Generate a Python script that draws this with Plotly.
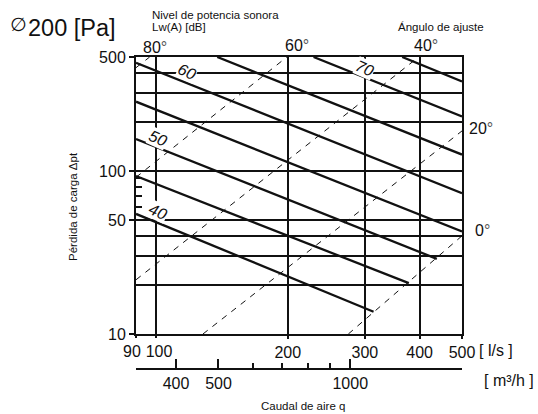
import math
import plotly.graph_objects as go

# Axes: air flow q [l/s] (log) and pressure drop Δpt [Pa] (log)
Q_RANGE = [90, 500]
DP_RANGE = [10, 500]
q_ticks = [200, 300, 400, 500]
q_grid = [100]
q_first, q_second = 90, 100          # crowded pair, labelled on their own scales
dp_ticks = [10, 50, 100, 500]
dp_grid = [20, 30, 40, 200, 300, 400]
dp_inner_ticks = [60, 70, 80, 90]
M3H_PER_LS = 3.6
m3h_ticks = [400, 500, 1000]
m3h_minor = [600, 700, 800, 900]

# Sound power level lines Lw(A) [dB]
lw_levels = [40, 45, 50, 55, 60, 65, 70, 75]
lw_q_start = [90, 90, 90, 90, 90, 138, 229, 365]
lw_dp_start = [54.5, 93, 157, 266, 461, 500, 500, 500]
lw_q_end = [314, 378, 438, 500, 500, 500, 500, 500]
lw_dp_end = [13.7, 20.5, 28.9, 42.5, 73, 126, 216, 354]
lw_labelled = [40, 50, 60, 70]

# Damper setting angle lines
angles = [80, 60, 40, 20, 0]
ang_q_start = [90, 90, 90, 128, 275]
ang_dp_start = [430, 91.4, 21.5, 10, 10]
ang_q_end = [96.7, 199, 398, 500, 500]
ang_dp_end = [500, 500, 500, 176, 40]

FONT = "Liberation Sans, Arial, Helvetica, sans-serif"
INK = "#111111"

fig = go.Figure()

for i, lv in enumerate(lw_levels):
    fig.add_trace(go.Scatter(
        x=[lw_q_start[i], lw_q_end[i]], y=[lw_dp_start[i], lw_dp_end[i]],
        mode="lines", line=dict(color=INK, width=2.3),
        name=f"Lw {lv} dB", showlegend=False, hoverinfo="skip"))

for i, ang in enumerate(angles):
    fig.add_trace(go.Scatter(
        x=[ang_q_start[i], ang_q_end[i]], y=[ang_dp_start[i], ang_dp_end[i]],
        mode="lines", line=dict(color=INK, width=1, dash="6px,6px"),
        name=f"{ang}°", showlegend=False, hoverinfo="skip"))

# carriers for the extra scales (m³/h, inner pressure ticks, crowded q labels)
for xa, ya in [("x2", "y"), ("x", "y2"), ("x3", "y"), ("x4", "y")]:
    fig.add_trace(go.Scatter(x=[], y=[], xaxis=xa, yaxis=ya, showlegend=False))

lg = math.log10
y_dom = [0.1122, 1]
q_range = [lg(Q_RANGE[0]), lg(Q_RANGE[1])]


def label_axis(val, shift):
    return dict(
        type="log", overlaying="x", anchor="y", side="bottom", range=q_range,
        tickmode="array", tickvals=[val], ticktext=[str(val)], tickangle=0,
        ticks="outside", ticklen=3, tickwidth=1.5, tickcolor=INK,
        ticklabelshift=shift,
        showgrid=False, showline=False, zeroline=False, tickfont=dict(size=16),
    )


fig.update_layout(
    width=538, height=414,
    margin=dict(l=136, r=76, t=57, b=45),
    paper_bgcolor="white", plot_bgcolor="white",
    font=dict(family=FONT, color=INK, size=16),
    xaxis=dict(
        type="log", range=q_range,
        tickmode="array", tickvals=q_ticks, ticktext=[str(v) for v in q_ticks],
        tickangle=0,
        ticks="outside", ticklen=3, tickwidth=1.5, tickcolor=INK,
        showgrid=True, gridcolor=INK, gridwidth=2,
        minor=dict(tickmode="array", tickvals=q_grid, ticks="",
                   showgrid=True, gridcolor=INK, gridwidth=2),
        showline=True, linecolor=INK, linewidth=2, mirror=True,
        zeroline=False, tickfont=dict(size=16),
    ),
    xaxis3=label_axis(q_first, -4),
    xaxis4=label_axis(q_second, 3),
    xaxis2=dict(
        type="log", overlaying="x", anchor="free", position=0, side="bottom",
        range=[lg(Q_RANGE[0] * M3H_PER_LS), lg(Q_RANGE[1] * M3H_PER_LS)],
        tickmode="array", tickvals=m3h_ticks, ticktext=[str(v) for v in m3h_ticks],
        tickangle=0,
        ticks="inside", ticklen=9, tickwidth=1.5, tickcolor=INK,
        minor=dict(tickmode="array", tickvals=m3h_minor, ticks="inside",
                   ticklen=5, tickwidth=1.5, tickcolor=INK, showgrid=False),
        showgrid=False, showline=True, linecolor=INK, linewidth=1.5,
        zeroline=False, tickfont=dict(size=16),
    ),
    yaxis=dict(
        type="log", range=[lg(DP_RANGE[0]), lg(DP_RANGE[1])], domain=y_dom,
        tickmode="array", tickvals=dp_ticks, ticktext=[str(v) for v in dp_ticks],
        ticks="outside", ticklen=5, tickwidth=1.5, tickcolor=INK,
        showgrid=True, gridcolor=INK, gridwidth=1.5,
        minor=dict(tickmode="array", tickvals=dp_grid, ticks="",
                   showgrid=True, gridcolor=INK, gridwidth=1.5),
        showline=True, linecolor=INK, linewidth=2, mirror=True,
        zeroline=False, tickfont=dict(size=16),
    ),
    yaxis2=dict(
        type="log", overlaying="y", anchor="x", side="left",
        range=[lg(DP_RANGE[0]), lg(DP_RANGE[1])], domain=y_dom,
        tickmode="array", tickvals=dp_inner_ticks,
        ticks="inside", ticklen=6, tickwidth=1.5, tickcolor=INK,
        showticklabels=False, showgrid=False, showline=False, zeroline=False,
    ),
)


def note(text, x, y, xanchor="left", size=16, family=FONT, **kw):
    fig.add_annotation(text=text, x=x, y=y, xref="paper", yref="paper",
                       xanchor=xanchor, yanchor="middle", showarrow=False,
                       font=dict(size=size, family=family, color=INK), **kw)


note("\u2205", -0.3589, 1.1042, xanchor="center", size=19, family="DejaVu Sans")
note("200 [Pa]", -0.3377, 1.0929, size=23.5)
note("Nivel de potencia sonora", 0.043, 1.1362, size=11.5)
note("Lw(A) [dB]", 0.043, 1.0946, size=11.5)
note("Ángulo de ajuste", 0.7983, 1.0962, size=11.5)

deg = "<span style='color:#555'>°</span>"
note(f"80{deg}", 0.0574, 1.0304, xanchor="center")
note(f"60{deg}", 0.4928, 1.0353, xanchor="center")
note(f"40{deg}", 0.8889, 1.0353, xanchor="center")
note(f"20{deg}", 1.0163, 0.7724)
note(f"0{deg}", 1.0338, 0.4455)

note("[ l/s ]", 1.046, 0.0577)
note("[ m³/h ]", 1.0623, -0.0353)
note("Caudal de aire q", 0.5127, -0.1186, xanchor="center", size=11.5)
note("Pérdida de carga Δpt", -0.1934, 0.5224, xanchor="center", size=11.5,
     textangle=-90)

# Lw level labels placed just above their lines
lw_label_pos = {40: (100.8, 56.2), 50: (101.2, 158.5), 60: (117.5, 406), 70: (300.5, 428)}
for lv in lw_labelled:
    qx, dpy = lw_label_pos[lv]
    fig.add_annotation(text=f"<i>{lv}</i>", x=lg(qx), y=lg(dpy), xref="x", yref="y",
                       showarrow=False, textangle=24, bgcolor="white", borderpad=0,
                       font=dict(size=16, family=FONT, color=INK))

fig.write_html("out.html")
